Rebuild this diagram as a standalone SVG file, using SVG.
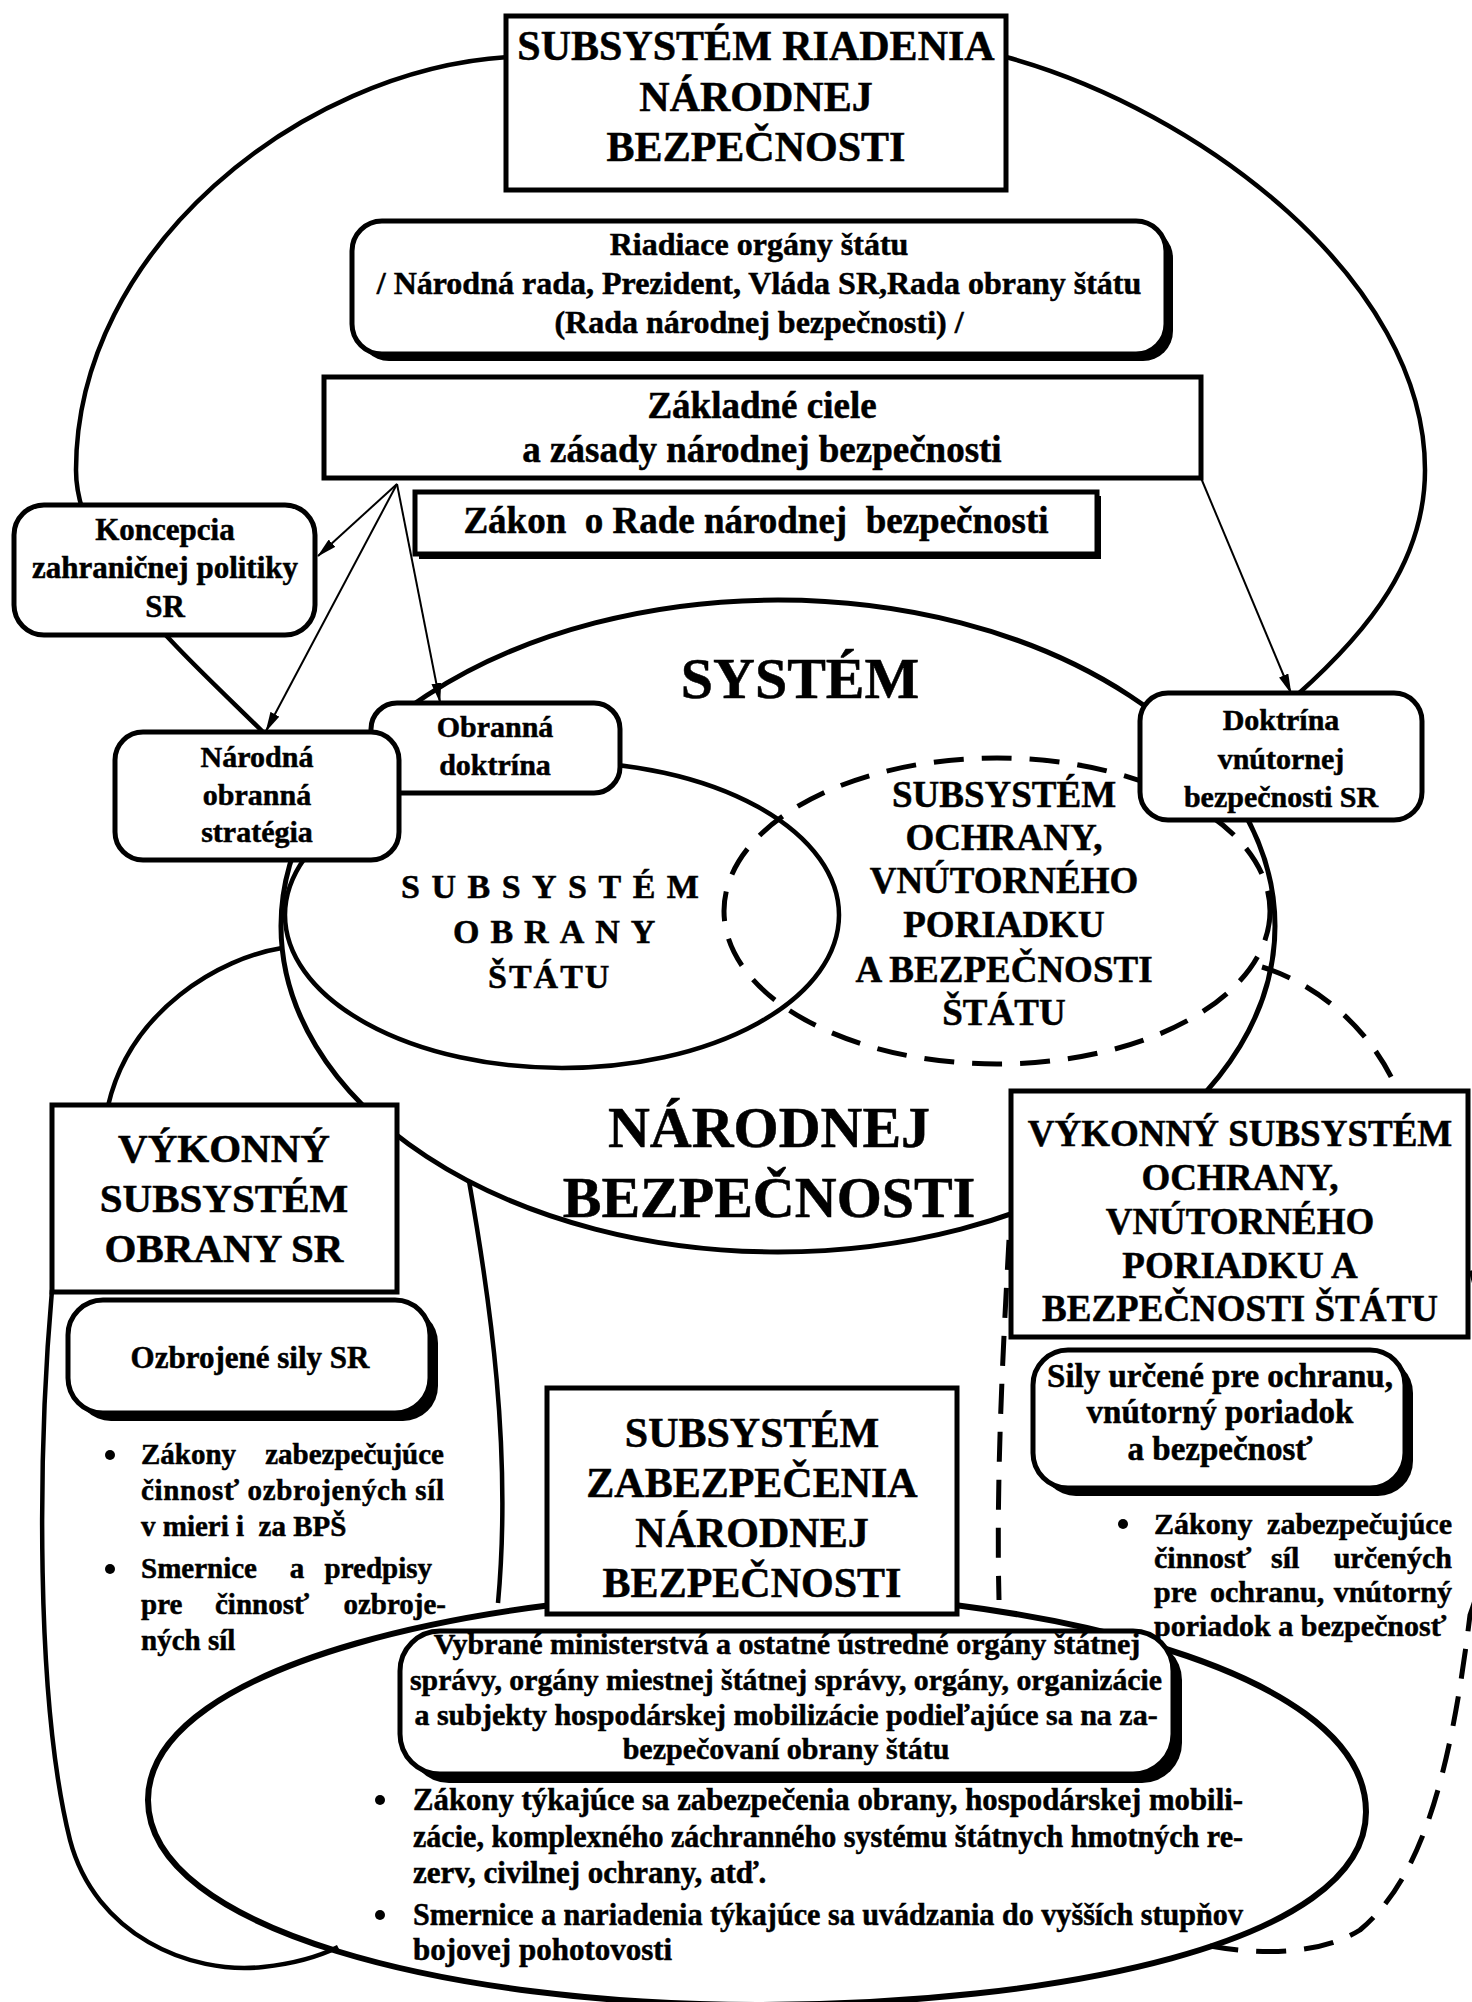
<svg xmlns="http://www.w3.org/2000/svg" width="1472" height="2002" viewBox="0 0 1472 2002">
<style>
.t{font-family:"Liberation Serif","Times New Roman",serif;font-weight:bold;fill:#000;stroke:#000;stroke-width:0.5}
.box{fill:#fff;stroke:#000;stroke-width:5}
.sh{fill:#000}
.ln{fill:none;stroke:#000;stroke-width:4.5}
.thin{fill:none;stroke:#000;stroke-width:2}
.dash{fill:none;stroke:#000;stroke-width:5;stroke-dasharray:30 18}
.mid{text-anchor:middle}
.end{text-anchor:end}
.f30{font-size:30px}.f31{font-size:31px}.f29{font-size:29px}.f32{font-size:32px}.f33{font-size:33px}.f34{font-size:34px}.f37{font-size:37px}.f41{font-size:41px}.f42{font-size:42px}.f58{font-size:58px}
</style>
<defs>
<marker id="ah" viewBox="0 0 20 10" refX="19" refY="5" markerWidth="20" markerHeight="10" markerUnits="userSpaceOnUse" orient="auto"><path d="M0,0 L20,5 L0,10 z" fill="#000"/></marker>
</defs>
<rect width="1472" height="2002" fill="#fff"/>

<g id="connectors">
  <path class="ln" d="M 508,57 C 300,70 76,250 76,470 C 76,560 180,650 263,732"/>
  <path class="ln" d="M 1006,57 C 1200,110 1425,280 1425,470 C 1425,560 1370,630 1297,695"/>
  <ellipse class="ln" cx="778" cy="926" rx="497" ry="326" style="stroke-width:5"/>
  <ellipse class="ln" cx="562" cy="915" rx="277" ry="153"/>
  <ellipse class="dash" cx="997" cy="911" rx="273" ry="153"/>
  <path class="ln" d="M 282,948 C 220,958 130,1010 108,1106"/>
  <path class="ln" d="M 52,1290 C 38,1450 35,1700 70,1840 C 95,1935 190,1975 263,1967 C 300,1963 322,1955 338,1947"/>
  <path class="ln" d="M 469,1181 C 490,1300 512,1450 498,1603"/>
  <path class="ln" style="stroke-width:6" d="M 757,1592 C 1000,1592 1366,1660 1366,1812 C 1366,1945 1050,2005 757,2005 C 450,2005 148,1930 148,1800 C 148,1660 500,1592 757,1592 Z"/>
  <path class="dash" d="M 1262,967 C 1320,985 1370,1030 1395,1085 C 1460,1200 1540,1420 1470,1615 C 1450,1780 1420,1880 1360,1930 C 1320,1955 1260,1955 1210,1946"/>
  <path class="dash" d="M 1009,1240 C 1003,1350 996,1480 999,1600"/>
  <path class="thin" marker-end="url(#ah)" d="M 397,484 L 318,556"/>
  <path class="thin" marker-end="url(#ah)" d="M 397,484 L 266,731"/>
  <path class="thin" marker-end="url(#ah)" d="M 397,484 L 440,702"/>
  <path class="thin" marker-end="url(#ah)" d="M 1201,478 L 1291,693"/>
</g>

<g id="n-riadenie">
  <rect class="box" x="506" y="16" width="500" height="174"/>
  <text class="t f42 mid" x="756" y="60">SUBSYSTÉM RIADENIA</text>
  <text class="t f42 mid" x="756" y="111">NÁRODNEJ</text>
  <text class="t f42 mid" x="756" y="161">BEZPEČNOSTI</text>
</g>

<g id="n-riadiace">
  <rect class="sh" x="359" y="228" width="814" height="133" rx="30"/>
  <rect class="box" x="352" y="221" width="814" height="133" rx="30"/>
  <text class="t f32 mid" x="759" y="255">Riadiace orgány štátu</text>
  <text class="t f32 mid" x="759" y="294">/ Národná rada, Prezident, Vláda SR,Rada obrany štátu</text>
  <text class="t f32 mid" x="759" y="333">(Rada národnej bezpečnosti) /</text>
</g>

<g id="n-ciele">
  <rect class="box" x="324" y="377" width="877" height="101"/>
  <text class="t f37 mid" x="762" y="418">Základné ciele</text>
  <text class="t f37 mid" x="762" y="462">a zásady národnej bezpečnosti</text>
</g>

<g id="n-zakon">
  <rect class="sh" x="419" y="496" width="682" height="63"/>
  <rect class="box" x="415" y="492" width="682" height="62"/>
  <text class="t f37 mid" x="756" y="533" xml:space="preserve">Zákon  o Rade národnej  bezpečnosti</text>
</g>

<g id="n-koncepcia">
  <rect class="box" x="14" y="505" width="301" height="130" rx="30"/>
  <text class="t f31 mid" x="165" y="540">Koncepcia</text>
  <text class="t f31 mid" x="165" y="578">zahraničnej politiky</text>
  <text class="t f31 mid" x="165" y="617">SR</text>
</g>

<g id="n-obranna-doktrina">
  <rect class="box" x="371" y="703" width="249" height="90" rx="26"/>
  <text class="t f30 mid" x="495" y="737">Obranná</text>
  <text class="t f30 mid" x="495" y="775">doktrína</text>
</g>

<g id="n-strategia">
  <rect class="box" x="115" y="732" width="284" height="128" rx="28"/>
  <text class="t f30 mid" x="257" y="767">Národná</text>
  <text class="t f30 mid" x="257" y="805">obranná</text>
  <text class="t f30 mid" x="257" y="842">stratégia</text>
</g>

<g id="n-doktrina-vnutornej">
  <rect class="box" x="1140" y="693" width="282" height="127" rx="28"/>
  <text class="t f30 mid" x="1281" y="730">Doktrína</text>
  <text class="t f30 mid" x="1281" y="769">vnútornej</text>
  <text class="t f30 mid" x="1281" y="807">bezpečnosti SR</text>
</g>

<g id="n-system-labels">
  <text class="t f58 mid" x="800" y="698">SYSTÉM</text>
  <text class="t f58 mid" x="769" y="1147">NÁRODNEJ</text>
  <text class="t f58 mid" x="769" y="1217">BEZPEČNOSTI</text>
</g>

<g id="n-subsystem-obrany">
  <text class="t f34" x="401" y="898" style="letter-spacing:11.5px">SUBSYSTÉM</text>
  <text class="t f34" x="453" y="943" style="letter-spacing:11px">OBRANY</text>
  <text class="t f34" x="488" y="988" style="letter-spacing:2px">ŠTÁTU</text>
</g>

<g id="n-subsystem-ochrany">
  <text class="t f37 mid" x="1004" y="807">SUBSYSTÉM</text>
  <text class="t f37 mid" x="1004" y="850">OCHRANY,</text>
  <text class="t f37 mid" x="1004" y="893">VNÚTORNÉHO</text>
  <text class="t f37 mid" x="1004" y="937">PORIADKU</text>
  <text class="t f37 mid" x="1004" y="982">A BEZPEČNOSTI</text>
  <text class="t f37 mid" x="1004" y="1025">ŠTÁTU</text>
</g>

<g id="n-vykonny-obrany">
  <rect class="box" x="52" y="1105" width="345" height="187"/>
  <text class="t f41 mid" x="224" y="1162">VÝKONNÝ</text>
  <text class="t f41 mid" x="224" y="1212">SUBSYSTÉM</text>
  <text class="t f41 mid" x="224" y="1262">OBRANY SR</text>
</g>

<g id="n-ozbrojene">
  <rect class="sh" x="76" y="1308" width="362" height="113" rx="35"/>
  <rect class="box" x="68" y="1300" width="362" height="113" rx="35"/>
  <text class="t f31 mid" x="250" y="1368">Ozbrojené sily SR</text>
</g>

<g id="n-bullets-obrany">
  <circle cx="110" cy="1455" r="5"/>
  <text class="t f29" x="141" y="1464">Zákony</text>
  <text class="t f29 end" x="444" y="1464">zabezpečujúce</text>
  <text class="t f29" x="141" y="1500" textLength="303" lengthAdjust="spacing">činnosť ozbrojených síl</text>
  <text class="t f29" x="141" y="1536" xml:space="preserve">v mieri i  za BPŠ</text>
  <circle cx="110" cy="1569" r="5"/>
  <text class="t f29" x="141" y="1578">Smernice</text>
  <text class="t f29 mid" x="297" y="1578">a</text>
  <text class="t f29 end" x="432" y="1578">predpisy</text>
  <text class="t f29" x="141" y="1614">pre</text>
  <text class="t f29" x="215" y="1614">činnosť</text>
  <text class="t f29 end" x="446" y="1614">ozbroje-</text>
  <text class="t f29" x="141" y="1650">ných síl</text>
</g>

<g id="n-vykonny-ochrany">
  <rect class="box" x="1011" y="1091" width="457" height="246"/>
  <text class="t f37 mid" x="1240" y="1146">VÝKONNÝ SUBSYSTÉM</text>
  <text class="t f37 mid" x="1240" y="1190">OCHRANY,</text>
  <text class="t f37 mid" x="1240" y="1234">VNÚTORNÉHO</text>
  <text class="t f37 mid" x="1240" y="1278">PORIADKU A</text>
  <text class="t f37 mid" x="1240" y="1321">BEZPEČNOSTI ŠTÁTU</text>
</g>

<g id="n-sily">
  <rect class="sh" x="1041" y="1358" width="372" height="138" rx="35"/>
  <rect class="box" x="1033" y="1350" width="372" height="138" rx="35"/>
  <text class="t f33 mid" x="1220" y="1387">Sily určené pre ochranu,</text>
  <text class="t f33 mid" x="1220" y="1423">vnútorný poriadok</text>
  <text class="t f33 mid" x="1220" y="1460">a bezpečnosť</text>
</g>

<g id="n-bullets-ochrany">
  <circle cx="1123" cy="1524" r="5"/>
  <text class="t f30" x="1154" y="1534">Zákony</text>
  <text class="t f30 end" x="1452" y="1534">zabezpečujúce</text>
  <text class="t f30" x="1154" y="1568">činnosť</text>
  <text class="t f30" x="1271" y="1568">síl</text>
  <text class="t f30 end" x="1452" y="1568">určených</text>
  <text class="t f30" x="1154" y="1602">pre</text>
  <text class="t f30" x="1210" y="1602">ochranu,</text>
  <text class="t f30 end" x="1452" y="1602">vnútorný</text>
  <text class="t f30" x="1154" y="1636">poriadok a bezpečnosť</text>
</g>

<g id="n-zabezpecenia">
  <rect class="box" x="547" y="1388" width="410" height="226"/>
  <text class="t f42 mid" x="752" y="1447">SUBSYSTÉM</text>
  <text class="t f42 mid" x="752" y="1497">ZABEZPEČENIA</text>
  <text class="t f42 mid" x="752" y="1547">NÁRODNEJ</text>
  <text class="t f42 mid" x="752" y="1597">BEZPEČNOSTI</text>
</g>

<g id="n-vybrane">
  <rect class="sh" x="409" y="1640" width="773" height="143" rx="40"/>
  <rect class="box" x="400" y="1631" width="773" height="143" rx="40"/>
  <text class="t f30 mid" x="787" y="1654">Vybrané ministerstvá a ostatné ústredné orgány štátnej</text>
  <text class="t f30 mid" x="786" y="1690" textLength="752" lengthAdjust="spacingAndGlyphs">správy, orgány miestnej štátnej správy, orgány, organizácie</text>
  <text class="t f30 mid" x="786" y="1725">a subjekty hospodárskej mobilizácie podieľajúce sa na za-</text>
  <text class="t f30 mid" x="786" y="1759">bezpečovaní obrany štátu</text>
</g>

<g id="n-bullets-zabezpecenia">
  <circle cx="380" cy="1800" r="5"/>
  <text class="t f31" x="413" y="1810" textLength="830" lengthAdjust="spacingAndGlyphs">Zákony týkajúce sa zabezpečenia obrany, hospodárskej mobili-</text>
  <text class="t f31" x="413" y="1847" textLength="830" lengthAdjust="spacingAndGlyphs">zácie, komplexného záchranného systému štátnych hmotných re-</text>
  <text class="t f31" x="413" y="1883">zerv, civilnej ochrany, atď.</text>
  <circle cx="380" cy="1915" r="5"/>
  <text class="t f31" x="413" y="1925" textLength="830" lengthAdjust="spacingAndGlyphs">Smernice a nariadenia týkajúce sa uvádzania do vyšších stupňov</text>
  <text class="t f31" x="413" y="1960">bojovej pohotovosti</text>
</g>
</svg>
